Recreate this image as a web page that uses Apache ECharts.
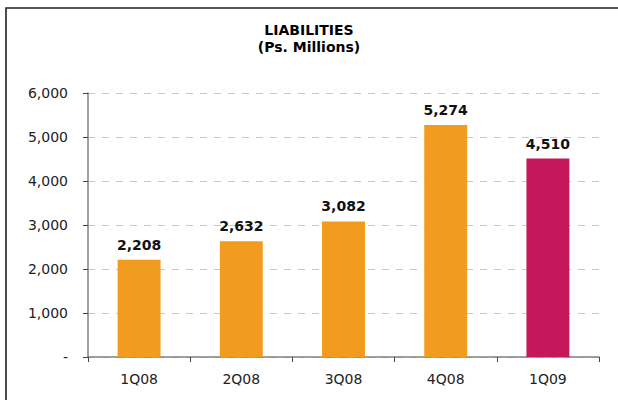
<!DOCTYPE html>
<html><head><meta charset="utf-8">
<script src="https://cdn.jsdelivr.net/npm/echarts@6/dist/echarts.min.js"></script>
<style>html,body{margin:0;padding:0;background:#fff}#c{width:618px;height:400px}</style>
</head><body><div id="c"></div>
<script>
const categories = ['1Q08','2Q08','3Q08','4Q08','1Q09'];
const liabilities = [2208, 2632, 3082, 5274, 4510];
const barColors = ['#F29C1F','#F29C1F','#F29C1F','#F29C1F','#C4185A'];
const yTicks = [0, 1000, 2000, 3000, 4000, 5000, 6000];

const font = 'DejaVu Sans';
const chart = echarts.init(document.getElementById('c'), null, {renderer:'svg'});
chart.setOption({
  animation:false,
  graphic:[{type:'rect', shape:{x:6, y:8, width:700, height:500}, style:{fill:'none', stroke:'#222', lineWidth:1.6}, z:-1}],
  title:{
    text:'LIABILITIES\n(Ps. Millions)', left:'center', top:16,
    textStyle:{fontFamily:font, fontSize:14, fontWeight:'bold', color:'#000', lineHeight:17}
  },
  grid:{left:88, right:19, top:93, bottom:43},
  xAxis:{
    type:'category', data:categories,
    axisLine:{lineStyle:{color:'#808080', width:1.5}},
    axisTick:{show:true, length:5, lineStyle:{color:'#444'}},
    axisLabel:{fontFamily:font, fontSize:14, color:'#222', margin:15}
  },
  yAxis:{
    type:'value', min:yTicks[0], max:yTicks[yTicks.length-1], interval:1000,
    axisLine:{show:true, lineStyle:{color:'#808080', width:1.5}},
    axisTick:{show:true, length:5, lineStyle:{color:'#444'}},
    axisLabel:{fontFamily:font, fontSize:14, color:'#222', margin:20,
      formatter:v => v === 0 ? '-' : v.toLocaleString('en-US')},
    splitLine:{lineStyle:{color:'#c8c8c8', type:[7,7]}}
  },
  series:[{
    type:'bar', barWidth:'42%',
    data: liabilities.map((v,i)=>({value:v, itemStyle:{color:barColors[i]}})),
    label:{show:true, position:'top', distance:8, fontFamily:font, fontSize:14, fontWeight:'bold', color:'#111',
      formatter:p => p.value.toLocaleString('en-US')}
  }]
});
</script></body></html>
